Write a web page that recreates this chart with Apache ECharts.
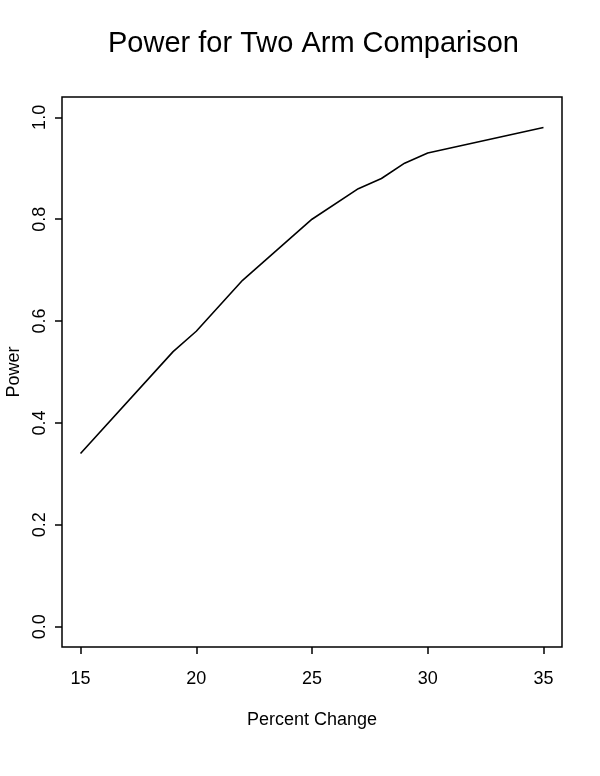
<!DOCTYPE html>
<html>
<head>
<meta charset="utf-8">
<script src="https://cdn.jsdelivr.net/npm/echarts@6/dist/echarts.min.js"></script>
<style>
html,body{margin:0;padding:0;background:#fff;}
#chart{width:600px;height:776px;}
</style>
</head>
<body>
<div id="chart"></div>
<script>
// Data
const percentChange = [15, 19, 20, 22, 25, 27, 28, 29, 30, 35];
const power = [0.34, 0.54, 0.58, 0.68, 0.80, 0.86, 0.88, 0.91, 0.93, 0.98];
const xTicks = [15, 20, 25, 30, 35];
const yTicks = [0.0, 0.2, 0.4, 0.6, 0.8, 1.0];

const FONT = '"Liberation Sans", Arial, Helvetica, sans-serif';
const chart = echarts.init(document.getElementById('chart'), null, {renderer: 'canvas'});

const points = percentChange.map((x, i) => [x, power[i]]);

chart.setOption({
  animation: false,
  backgroundColor: '#ffffff',
  title: {
    text: 'Power for Two Arm Comparison',
    left: 108,
    top: 29,
    padding: 0,
    textStyle: {fontFamily: FONT, fontSize: 29, fontWeight: 'normal', color: '#000'}
  },
  grid: {
    left: 62, right: 38, top: 97, bottom: 129,
    outerBoundsMode: 'none',
    containLabel: false,
    show: true, borderColor: '#000', borderWidth: 1.5, backgroundColor: 'transparent'
  },
  xAxis: {
    type: 'value',
    min: 14.2, max: 35.8,
    name: 'Percent Change',
    nameLocation: 'middle',
    nameGap: 64,
    nameTextStyle: {fontFamily: FONT, fontSize: 18, color: '#000'},
    axisLine: {show: false, onZero: false},
    splitLine: {show: false},
    axisTick: {show: true, inside: false, length: 7, customValues: xTicks, lineStyle: {color: '#000', width: 1.5}},
    axisLabel: {show: true, customValues: xTicks, margin: 23, fontFamily: FONT, fontSize: 18, color: '#000'}
  },
  yAxis: {
    type: 'value',
    min: -0.04, max: 1.04,
    name: 'Power',
    nameLocation: 'middle',
    nameGap: 36,
    nameRotate: 90,
    nameTextStyle: {fontFamily: FONT, fontSize: 18, color: '#000'},
    axisLine: {show: false, onZero: false},
    splitLine: {show: false},
    axisTick: {show: true, inside: false, length: 7, customValues: yTicks, lineStyle: {color: '#000', width: 1.5}},
    axisLabel: {
      show: true, customValues: yTicks, rotate: 90, margin: 13,
      fontFamily: FONT, fontSize: 18, color: '#000',
      formatter: v => Number(v).toFixed(1)
    }
  },
  series: [{
    type: 'line',
    data: points,
    showSymbol: false,
    symbol: 'none',
    lineStyle: {color: '#000', width: 1.6},
    clip: true
  }]
});
</script>
</body>
</html>
